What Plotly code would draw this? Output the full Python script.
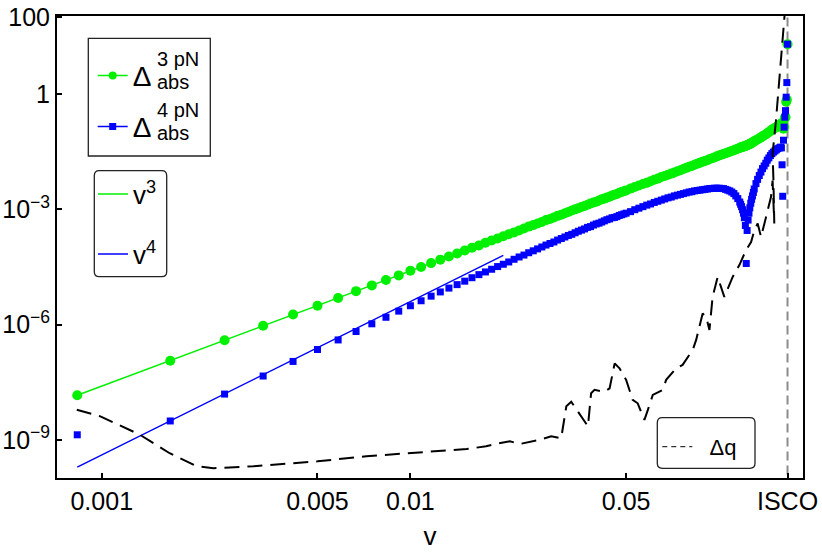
import plotly.graph_objects as go

# sample points v (uniform step 1/1200, up to the ISCO at v = 1/6)
v_pts = [
    0.000833, 0.001667, 0.0025, 0.003333, 0.004167, 0.005, 0.005833, 0.006667, 0.0075, 0.008333,
    0.009167, 0.01, 0.01083, 0.01167, 0.0125, 0.01333, 0.01417, 0.015, 0.01583, 0.01667,
    0.0175, 0.01833, 0.01917, 0.02, 0.02083, 0.02167, 0.0225, 0.02333, 0.02417, 0.025,
    0.02583, 0.02667, 0.0275, 0.02833, 0.02917, 0.03, 0.03083, 0.03167, 0.0325, 0.03333,
    0.03417, 0.035, 0.03583, 0.03667, 0.0375, 0.03833, 0.03917, 0.04, 0.04083, 0.04167,
    0.0425, 0.04333, 0.04417, 0.045, 0.04583, 0.04667, 0.0475, 0.04833, 0.04917, 0.05,
    0.05167, 0.05333, 0.055, 0.05667, 0.05833, 0.06, 0.06167, 0.06333, 0.065, 0.06667,
    0.06833, 0.07, 0.07167, 0.07333, 0.075, 0.07667, 0.07833, 0.08, 0.08167, 0.08333,
    0.085, 0.08667, 0.08833, 0.09, 0.09167, 0.09333, 0.095, 0.09667, 0.09833, 0.1,
    0.1017, 0.1033, 0.105, 0.1067, 0.1083, 0.11, 0.1117, 0.1133, 0.115, 0.1167,
    0.1175, 0.1183, 0.1192, 0.12, 0.1208, 0.1217, 0.1225, 0.1233, 0.1242, 0.125,
    0.1258, 0.1267, 0.1275, 0.1283, 0.1292, 0.13,
    0.1317, 0.1333, 0.135, 0.1367, 0.1383, 0.14, 0.1417, 0.1433, 0.145, 0.1467,
    0.1483, 0.15, 0.1517, 0.1533, 0.155, 0.1567, 0.1583,
    0.1592, 0.16, 0.1608, 0.1617, 0.1625, 0.1633, 0.1642, 0.165, 0.1658, 0.1667,
]

# log10 |Delta_abs| at 3pN (green circles)
d3pn_log = [
    -7.84, -6.94, -6.41, -6.03, -5.74, -5.51, -5.31, -5.13, -4.98, -4.84,
    -4.72, -4.60, -4.50, -4.40, -4.31, -4.23, -4.15, -4.07, -4.00, -3.94,
    -3.87, -3.81, -3.76, -3.70, -3.65, -3.60, -3.55, -3.50, -3.45, -3.41,
    -3.37, -3.33, -3.28, -3.25, -3.21, -3.17, -3.14, -3.10, -3.07, -3.03,
    -3.00, -2.97, -2.94, -2.91, -2.88, -2.85, -2.82, -2.80, -2.77, -2.74,
    -2.72, -2.69, -2.67, -2.64, -2.62, -2.60, -2.57, -2.55, -2.53, -2.51,
    -2.46, -2.42, -2.38, -2.34, -2.31, -2.27, -2.23, -2.20, -2.16, -2.13,
    -2.10, -2.07, -2.04, -2.01, -1.98, -1.95, -1.92, -1.89, -1.87, -1.84,
    -1.81, -1.79, -1.76, -1.74, -1.72, -1.69, -1.67, -1.65, -1.62, -1.60,
    -1.58, -1.56, -1.54, -1.52, -1.50, -1.48, -1.46, -1.44, -1.42, -1.40,
    -1.39, -1.38, -1.37, -1.37, -1.36, -1.35, -1.34, -1.33, -1.32, -1.31,
    -1.30, -1.29, -1.27, -1.26, -1.24, -1.23,
    -1.20, -1.18, -1.15, -1.13, -1.10, -1.07, -1.05, -1.02, -0.99, -0.96,
    -0.93, -0.90, -0.88, -0.86, -0.83, -0.81, -0.78,
    -0.78, -0.76, -0.74, -0.90, -0.85, -0.62, -0.60, -0.20, -0.15, 1.30,
]

# log10 |Delta_abs| at 4pN (blue squares)
d4pn_log = [
    -8.87, -8.51, -7.81, -7.34, -6.96, -6.65, -6.40, -6.18, -5.98, -5.81,
    -5.65, -5.51, -5.38, -5.26, -5.15, -5.05, -4.96, -4.87, -4.78, -4.70,
    -4.63, -4.56, -4.49, -4.43, -4.37, -4.30, -4.24, -4.19, -4.13, -4.08,
    -4.03, -3.98, -3.93, -3.89, -3.85, -3.80, -3.76, -3.72, -3.68, -3.65,
    -3.61, -3.57, -3.54, -3.51, -3.47, -3.45, -3.41, -3.38, -3.36, -3.33,
    -3.30, -3.27, -3.25, -3.22, -3.21, -3.19, -3.16, -3.14, -3.12, -3.10,
    -3.06, -3.01, -2.97, -2.93, -2.89, -2.86, -2.82, -2.79, -2.76, -2.73,
    -2.70, -2.68, -2.65, -2.63, -2.61, -2.59, -2.57, -2.55, -2.54, -2.52,
    -2.51, -2.50, -2.49, -2.48, -2.47, -2.46, -2.455, -2.45, -2.45, -2.45,
    -2.455, -2.46, -2.48, -2.50, -2.52, -2.55, -2.59, -2.65, -2.72, -2.81,
    -2.87, -2.93, -3.01, -3.10, -3.22, -3.42, -4.41, -3.55, -3.28, -3.10,
    -2.96, -2.84, -2.74, -2.65, -2.56, -2.47,
    -2.33, -2.22, -2.12, -2.03, -1.94, -1.87, -1.80, -1.72, -1.66, -1.60,
    -1.55, -1.51, -1.48, -1.45, -1.42, -1.40, -1.38,
    -1.40, -1.84, -2.66, -1.20, -0.86, -0.60, -0.43, -0.08, 0.30, 1.30,
]

# power-law guide lines (v^3, v^4)
v_fit = [0.000833, 0.02]
fit3_log = [-7.84, -3.70]
fit4_log = [-9.71, -4.20]

# Delta q (black dashed)
dq_v = [
    0.00083, 0.00099, 0.00133, 0.00166, 0.00203, 0.0023, 0.0031, 0.005, 0.0072, 0.01,
    0.0118, 0.0152, 0.0176, 0.019, 0.021, 0.0226, 0.0262, 0.0286, 0.0308, 0.0312,
    0.032, 0.0332, 0.0358, 0.0376, 0.0385, 0.0395, 0.0425, 0.0442, 0.0459, 0.0476,
    0.05, 0.0525, 0.0545, 0.0573, 0.0588, 0.061, 0.0657, 0.0674, 0.0726, 0.0762,
    0.0801, 0.0822, 0.0843, 0.0885, 0.0908, 0.0931, 0.0953, 0.099, 0.104, 0.1107,
    0.1164, 0.1223, 0.127, 0.1301, 0.1334, 0.1368, 0.142, 0.1473, 0.1491, 0.151,
    0.15, 0.1491, 0.1529, 0.1566, 0.1606, 0.164,
]
dq_log = [
    -8.22, -8.39, -8.87, -9.35, -9.69, -9.74, -9.69, -9.56, -9.43, -9.35,
    -9.32, -9.24, -9.17, -9.10, -9.04, -9.11, -9.00, -8.91, -8.96, -8.65,
    -8.13, -8.01, -8.39, -8.65, -7.79, -7.70, -7.75, -7.66, -7.01, -7.14,
    -7.44, -7.96, -8.05, -8.48, -8.22, -7.83, -7.70, -7.44, -7.14, -7.05,
    -6.79, -6.66, -6.40, -5.71, -5.80, -6.14, -5.28, -4.76, -5.28, -4.76,
    -4.45, -4.06, -3.85, -3.55, -3.37, -3.72, -3.20, -2.68, -2.25, -3.37,
    -2.20, -1.55, -0.69, 0.44, 1.48, 2.30,
]

v_isco = 1 / 6
x_ticks = [0.001, 0.005, 0.01, 0.05, v_isco]
x_labels = ["0.001", "0.005", "0.01", "0.05", "ISCO"]
y_ticks = [1e-9, 1e-6, 1e-3, 1, 100]
y_labels = ["10<sup>\u22129</sup>", "10<sup>\u22126</sup>", "10<sup>\u22123</sup>", "1", "100"]

GREEN = "#00f000"
BLUE = "#0000ff"
FONT = "Liberation Sans, Arial, Helvetica, sans-serif"

# plot area in pixels (for placing the legend boxes / labels)
PL, PR, PT, PB = 57, 803, 16, 478


def px(x):
    return (x - PL) / (PR - PL)


def py(y):
    return (PB - y) / (PB - PT)


def tenpow(vals):
    return [10 ** e for e in vals]


fig = go.Figure()

fig.add_trace(go.Scatter(
    x=[v_isco, v_isco], y=[1e-11, 1e3], mode="lines",
    line=dict(color="#8c8c8c", width=2, dash="9px,5px"),
    showlegend=False, hoverinfo="skip",
))

fig.add_trace(go.Scatter(
    x=v_pts, y=tenpow(d3pn_log), mode="markers",
    marker=dict(symbol="circle", size=10, color=GREEN),
    showlegend=False,
))
fig.add_trace(go.Scatter(
    x=v_pts, y=tenpow(d4pn_log), mode="markers",
    marker=dict(symbol="square", size=7, color=BLUE),
    showlegend=False,
))

fig.add_trace(go.Scatter(
    x=v_fit, y=tenpow(fit3_log), mode="lines",
    line=dict(color=GREEN, width=1.5), name="v<sup>3</sup>",
    legend="legend2", legendgroup="f3",
))
fig.add_trace(go.Scatter(
    x=v_fit, y=tenpow(fit4_log), mode="lines",
    line=dict(color=BLUE, width=1.5), name="v<sup>4</sup>",
    legend="legend2", legendgroup="f4",
))

fig.add_trace(go.Scatter(
    x=dq_v, y=tenpow(dq_log), mode="lines",
    line=dict(color="black", width=2, dash="15px,8px"),
    showlegend=False,
))

# legend keys
fig.add_trace(go.Scatter(
    x=[None], y=[None], mode="lines+markers", name="\u0394", legend="legend", legendgroup="d3",
    line=dict(color=GREEN, width=1.5), marker=dict(symbol="circle", size=8, color=GREEN),
))
fig.add_trace(go.Scatter(
    x=[None], y=[None], mode="lines+markers", name="\u0394", legend="legend", legendgroup="d4",
    line=dict(color=BLUE, width=1.5), marker=dict(symbol="square", size=7, color=BLUE),
))
fig.add_trace(go.Scatter(
    x=[None], y=[None], mode="lines", name="\u00a0\u00a0\u0394q", legend="legend3",
    line=dict(color="black", width=1, dash="5px,4px"),
))


def rounded_box(x0, y0, x1, y1, r=5):
    a0, a1 = px(x0), px(x1)
    b0, b1 = py(y0), py(y1)
    rx = r / (PR - PL)
    ry = r / (PB - PT)
    return (f"M{a0 + rx},{b0} L{a1 - rx},{b0} Q{a1},{b0} {a1},{b0 - ry} "
            f"L{a1},{b1 + ry} Q{a1},{b1} {a1 - rx},{b1} L{a0 + rx},{b1} "
            f"Q{a0},{b1} {a0},{b1 + ry} L{a0},{b0 - ry} Q{a0},{b0} {a0 + rx},{b0} Z")


box_line = dict(color="#222", width=1.3)
shapes = [
    dict(type="rect", xref="paper", yref="paper", x0=px(88.3), x1=px(210.3),
         y0=py(38.3), y1=py(156), line=box_line, fillcolor="white", layer="above"),
    dict(type="path", xref="paper", yref="paper", path=rounded_box(94.3, 170.7, 166.7, 276.7),
         line=box_line, fillcolor="white", layer="above"),
    dict(type="path", xref="paper", yref="paper", path=rounded_box(657.3, 417.7, 755, 468.3),
         line=box_line, fillcolor="white", layer="above"),
]

# stacked super/subscripts of the Delta_abs legend entries
scripts = [
    ("3 pN", 154.5, 59, 20), ("abs", 154.5, 82, 20),
    ("4 pN", 154.5, 110, 20), ("abs", 154.5, 133, 20),
]
annotations = [
    dict(text=t, x=px(x), y=py(y), xref="paper", yref="paper", xanchor="left",
         yanchor="middle", showarrow=False, font=dict(size=s, color="black", family=FONT))
    for t, x, y, s in scripts
]

axis_common = dict(
    type="log", showline=True, linewidth=2, linecolor="black", mirror=True,
    ticks="inside", ticklen=5, tickwidth=1.5, tickcolor="black", automargin=False,
    showgrid=False, zeroline=False, tickfont=dict(size=25, color="black", family=FONT),
)

fig.update_xaxes(
    range=[-3.145, -0.728], tickvals=x_ticks, ticktext=x_labels,
    title=dict(text="v", font=dict(size=26, color="black", family=FONT), standoff=13),
    **axis_common,
)
fig.update_yaxes(range=[-9.995, 2.034], tickvals=y_ticks, ticktext=y_labels, **axis_common)

legend_common = dict(xanchor="left", yanchor="top", bgcolor="rgba(0,0,0,0)", borderwidth=0,
                     traceorder="grouped", itemwidth=30)
fig.update_layout(
    template="none",
    width=822, height=553,
    margin=dict(l=PL, r=822 - PR, t=PT, b=553 - PB, pad=0),
    paper_bgcolor="white", plot_bgcolor="white",
    font=dict(family=FONT, color="black"),
    shapes=shapes, annotations=annotations,
    legend=dict(x=px(92.7), y=py(50.8), font=dict(size=28, family=FONT, color="black"),
                tracegroupgap=11.6, **legend_common),
    legend2=dict(x=px(93), y=py(170.6), font=dict(size=26, family=FONT, color="black"),
                 tracegroupgap=23.2, **legend_common),
    legend3=dict(x=px(657.3), y=py(425.9), font=dict(size=22, family=FONT, color="black"),
                 **legend_common),
)

# the page body has a default 8px margin; drop it so the figure sits at the corner
fig.write_html(
    "out.html",
    config={"displayModeBar": False},
    post_script="document.body.style.margin='0';",
)
